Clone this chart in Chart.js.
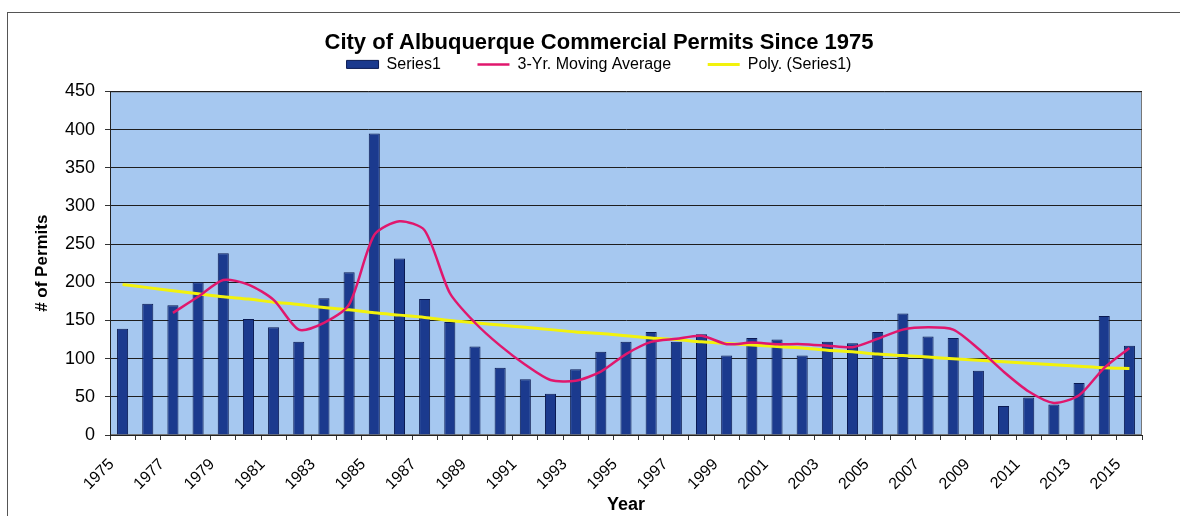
<!DOCTYPE html>
<html>
<head>
<meta charset="utf-8">
<title>City of Albuquerque Commercial Permits Since 1975</title>
<script src="https://cdn.jsdelivr.net/npm/chart.js@4.4.1/dist/chart.umd.min.js"></script>
<style>
    html, body { margin: 0; padding: 0; background: #fff; }
    #wrap { position: relative; width: 1180px; height: 516px; overflow: hidden; }
    #frame { position: absolute; left: 7px; top: 12px; width: 1200px; height: 600px; border: 1px solid #555; }
    #chart { position: absolute; left: 0; top: 0; }
</style>
</head>
<body>
<div id="wrap">
    <div id="frame"></div>
    <canvas id="chart" width="1180" height="516"></canvas>
</div>
<script>
// Years on the category axis
const years = [
    '1975', '1976', '1977', '1978', '1979', '1980', '1981', '1982', '1983', '1984',
    '1985', '1986', '1987', '1988', '1989', '1990', '1991', '1992', '1993', '1994',
    '1995', '1996', '1997', '1998', '1999', '2000', '2001', '2002', '2003', '2004',
    '2005', '2006', '2007', '2008', '2009', '2010', '2011', '2012', '2013', '2014',
    '2015'
];

// Commercial permits per year (Series1)
const permits = [
    139, 172, 170, 200, 238, 152, 141, 122, 179, 213,
    395, 231, 178, 148, 116, 88, 73, 54, 86, 109,
    122, 135, 122, 132, 104, 127, 125, 104, 122, 120,
    135, 159, 129, 127, 84, 38, 49, 40, 68, 156,
    117
];

// 3-yr moving average as plotted (starts at the third year)
const movingAvg = [
    null, null, 160, 181, 203, 197, 177, 138, 147, 171,
    262, 280, 268, 186, 147, 117, 92, 72, 71, 83,
    106, 122, 126, 130, 119, 121, 119, 119, 117, 115,
    126, 138, 141, 138, 113, 83, 57, 42, 52, 88,
    114
];

// Polynomial trendline
const polyTrend = [
    197, 193, 189, 185, 181, 178, 174, 171, 167, 164,
    160, 157, 154, 150, 147, 144, 141, 138, 135, 133,
    130, 127, 125, 122, 120, 118, 116, 114, 111, 109,
    106, 104, 102, 100, 98, 96, 94, 92, 90, 88,
    87
];

const yTicks = [0, 50, 100, 150, 200, 250, 300, 350, 400, 450];

Chart.defaults.font.family = '"Liberation Sans", Arial, sans-serif';
Chart.defaults.color = '#000';

// light blue plot area with a grey frame, like the Excel original
const plotBackground = {
    id: 'plotBackground',
    beforeDraw(chart) {
        const { ctx, chartArea: a } = chart;
        ctx.save();
        ctx.fillStyle = '#a6c8f0';
        ctx.fillRect(a.left, a.top, a.right - a.left, a.bottom - a.top);
        ctx.strokeStyle = '#777';
        ctx.lineWidth = 1;
        ctx.strokeRect(a.left + 0.5, a.top + 0.5, a.right - a.left - 1, a.bottom - a.top - 1);
        ctx.restore();
    }
};

function legendLabels(chart) {
    const items = Chart.defaults.plugins.legend.labels.generateLabels(chart);
    items.sort((a, b) => a.datasetIndex - b.datasetIndex);
    items.forEach((item, i) => {
        if (i < items.length - 1) item.text += '      ';
    });
    return items;
}

new Chart(document.getElementById('chart'), {
    data: {
        labels: years,
        datasets: [
            {
                type: 'bar',
                label: 'Series1',
                data: permits,
                backgroundColor: '#1b3a8e',
                borderColor: '#0a1a52',
                borderWidth: 1,
                barPercentage: 0.44,
                categoryPercentage: 1,
                pointStyle: 'rect',
                order: 3
            },
            {
                type: 'line',
                label: '3-Yr. Moving Average',
                data: movingAvg,
                borderColor: '#e0176d',
                borderWidth: 2.5,
                pointRadius: 0,
                pointStyle: 'line',
                tension: 0.25,
                order: 1
            },
            {
                type: 'line',
                label: 'Poly. (Series1)',
                data: polyTrend,
                borderColor: '#f2f20c',
                borderWidth: 3,
                pointRadius: 0,
                pointStyle: 'line',
                tension: 0.3,
                order: 2
            }
        ]
    },
    options: {
        responsive: false,
        animation: false,
        devicePixelRatio: 1,
        layout: { padding: { left: 56, right: 38, top: 0, bottom: 0 } },
        plugins: {
            title: {
                display: true,
                text: 'City of Albuquerque Commercial Permits Since 1975',
                font: { size: 22, weight: 'bold' },
                padding: { top: 30, bottom: -10 }
            },
            subtitle: {
                // spacer between legend and plot
                display: true,
                text: '',
                weight: 500,
                padding: 0,
                font: { size: 9, lineHeight: 1 }
            },
            legend: {
                display: true,
                position: 'top',
                labels: {
                    font: { size: 16 },
                    usePointStyle: true,
                    pointStyleWidth: 32,
                    boxHeight: 8,
                    padding: 10,
                    generateLabels: legendLabels
                }
            },
            tooltip: { enabled: false }
        },
        scales: {
            x: {
                offset: true,
                grid: {
                    display: true,
                    drawOnChartArea: false,
                    offset: true,
                    tickLength: 5,
                    color: '#333'
                },
                border: { display: true, color: '#222' },
                ticks: {
                    autoSkip: false,
                    maxRotation: 45,
                    minRotation: 45,
                    padding: 15,
                    labelOffset: -11,
                    font: { size: 16 },
                    callback: function(value, index) {
                        return index % 2 === 0 ? years[index] : '';
                    }
                },
                title: {
                    display: true,
                    text: 'Year',
                    font: { size: 18, weight: 'bold' },
                    padding: { top: 0, bottom: 0 }
                },
                afterFit(scale) { scale.height = 81; }
            },
            y: {
                min: yTicks[0],
                max: yTicks[yTicks.length - 1],
                afterBuildTicks(scale) {
                    scale.ticks = yTicks.map(v => ({ value: v }));
                },
                grid: {
                    color: '#1e1e1e',
                    tickLength: 5,
                    tickColor: '#333'
                },
                border: { display: true, color: '#222' },
                ticks: {
                    padding: 10,
                    font: { size: 18 }
                },
                title: {
                    display: true,
                    text: '# of Permits',
                    font: { size: 17, weight: 'bold' },
                    padding: { top: -24, bottom: 0 }
                },
                afterFit(scale) { scale.width = 54; }
            }
        }
    },
    plugins: [plotBackground]
});
</script>
</body>
</html>
